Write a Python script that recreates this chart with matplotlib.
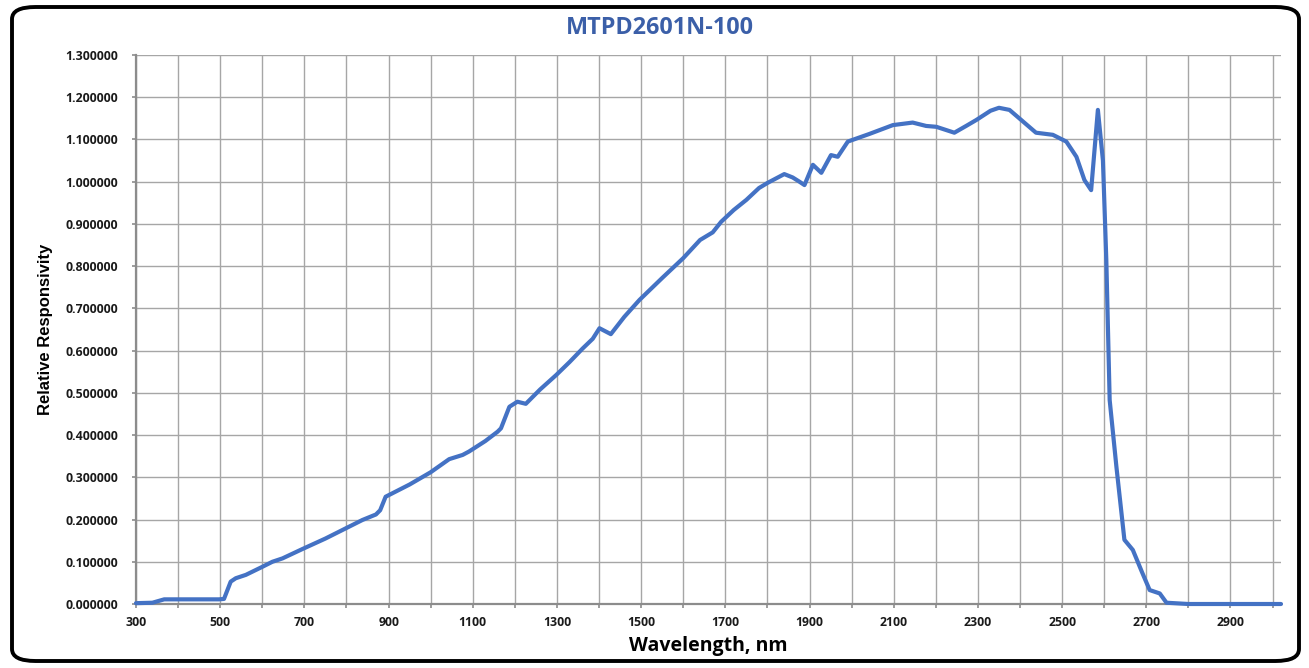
import matplotlib
matplotlib.use("Agg")
import matplotlib.pyplot as plt
from matplotlib.patches import FancyBboxPatch
from matplotlib.ticker import MultipleLocator, FixedLocator, FuncFormatter
from matplotlib import font_manager

title = "MTPD2601N-100"
x_label = "Wavelength, nm"
y_label = "Relative Responsivity"

wavelength = [300, 339, 367, 400, 450, 497, 509, 525, 537, 561, 600, 624, 648, 695,
              750, 798, 838, 870, 880, 893, 950, 1000, 1044, 1076, 1091, 1130, 1159,
              1167, 1187, 1206, 1226, 1260, 1298, 1330, 1361, 1385, 1401, 1428, 1460,
              1496, 1550, 1600, 1640, 1670, 1690, 1720, 1750, 1780, 1800, 1840, 1860,
              1876, 1888, 1908, 1928, 1951, 1967, 1991, 2042, 2098, 2145, 2177, 2201,
              2244, 2272, 2296, 2330, 2350, 2375, 2403, 2438, 2478, 2510, 2534, 2553,
              2569, 2585, 2597, 2605, 2613, 2629, 2648, 2668, 2690, 2708, 2732, 2748,
              2800, 2900, 3020]
responsivity = [0.002, 0.003, 0.011, 0.011, 0.011, 0.011, 0.012, 0.053, 0.061, 0.069,
                0.088, 0.100, 0.108, 0.130, 0.155, 0.179, 0.199, 0.212, 0.222, 0.254,
                0.283, 0.312, 0.343, 0.353, 0.361, 0.386, 0.408, 0.416, 0.467, 0.479,
                0.474, 0.508, 0.542, 0.573, 0.605, 0.628, 0.653, 0.639, 0.680, 0.720,
                0.772, 0.819, 0.862, 0.880, 0.905, 0.933, 0.957, 0.985, 0.997, 1.018,
                1.010, 1.000, 0.992, 1.040, 1.021, 1.063, 1.059, 1.095, 1.113, 1.134,
                1.140, 1.132, 1.130, 1.116, 1.132, 1.146, 1.168, 1.175, 1.170, 1.146,
                1.116, 1.111, 1.095, 1.059, 1.004, 0.980, 1.170, 1.050, 0.815, 0.483,
                0.325, 0.152, 0.128, 0.075, 0.033, 0.025, 0.003, 0.0, 0.0, 0.0]

x_tick_labels = [300, 500, 700, 900, 1100, 1300, 1500, 1700, 1900, 2100, 2300, 2500, 2700, 2900]

W, H = 1309, 668
fig = plt.figure(figsize=(W / 100, H / 100), dpi=100)

# rounded border
border = FancyBboxPatch((12 / W, 7 / H), (W - 22) / W, (H - 14) / H,
                        boxstyle="round,pad=0,rounding_size=0.018",
                        transform=fig.transFigure, facecolor="white",
                        edgecolor="black", linewidth=2.8, zorder=-1)
fig.patches.append(border)

left, right, top, bottom = 136, 1281, 55, 604
ax = fig.add_axes([left / W, 1 - bottom / H, (right - left) / W, (bottom - top) / H])
ax.set_facecolor("none")

ax.plot(wavelength, responsivity, color="#4472C4", linewidth=3.0,
        solid_joinstyle="round", solid_capstyle="round", zorder=3, clip_on=False)

ax.set_xlim(300, 3020)
ax.set_ylim(0, 1.3)

ax.xaxis.set_major_locator(FixedLocator(x_tick_labels))
ax.xaxis.set_minor_locator(MultipleLocator(100))
ax.yaxis.set_major_locator(MultipleLocator(0.1))
ax.yaxis.set_major_formatter(FuncFormatter(lambda v, p: f"{v:.6f}"))

grid_color = "#A6A6A6"
ax.grid(True, which="major", axis="y", color=grid_color, linewidth=1.0, zorder=1)
ax.grid(True, which="both", axis="x", color=grid_color, linewidth=1.0, zorder=1)
ax.set_axisbelow(True)

for s in ["top", "right"]:
    ax.spines[s].set_visible(False)
for s in ["left", "bottom"]:
    ax.spines[s].set_color("#8C8C8C")
    ax.spines[s].set_linewidth(1.6)

ax.tick_params(axis="both", which="both", direction="out", color="#8C8C8C",
               length=3, width=1.2)
ax.tick_params(axis="x", which="major", pad=6)
ax.tick_params(axis="y", which="major", pad=10)

for lbl in ax.get_xticklabels() + ax.get_yticklabels():
    lbl.set_fontfamily(["Open Sans", "DejaVu Sans"])
    lbl.set_fontweight("bold")
    lbl.set_fontsize(8.8)
    lbl.set_color("#1a1a1a")

ax.set_xlabel(x_label, fontsize=14, fontweight="bold",
              family=["Open Sans", "DejaVu Sans"], labelpad=5)

names = {f.name for f in font_manager.fontManager.ttflist}
ylab_family = ["Liberation Sans Narrow"] if "Liberation Sans Narrow" in names else ["Liberation Sans"]
ylab_size = 13.5 if "Liberation Sans Narrow" in names else 12
ax.set_ylabel(y_label, fontsize=ylab_size, fontweight="bold",
              family=ylab_family + ["DejaVu Sans"], labelpad=9)

fig.text(660 / W, 1 - 28 / H, title, ha="center", va="center", fontsize=16.8,
         fontweight="bold", color="#3B5FA8", family=["Open Sans", "DejaVu Sans"])

fig.savefig("out.png", dpi=100)
